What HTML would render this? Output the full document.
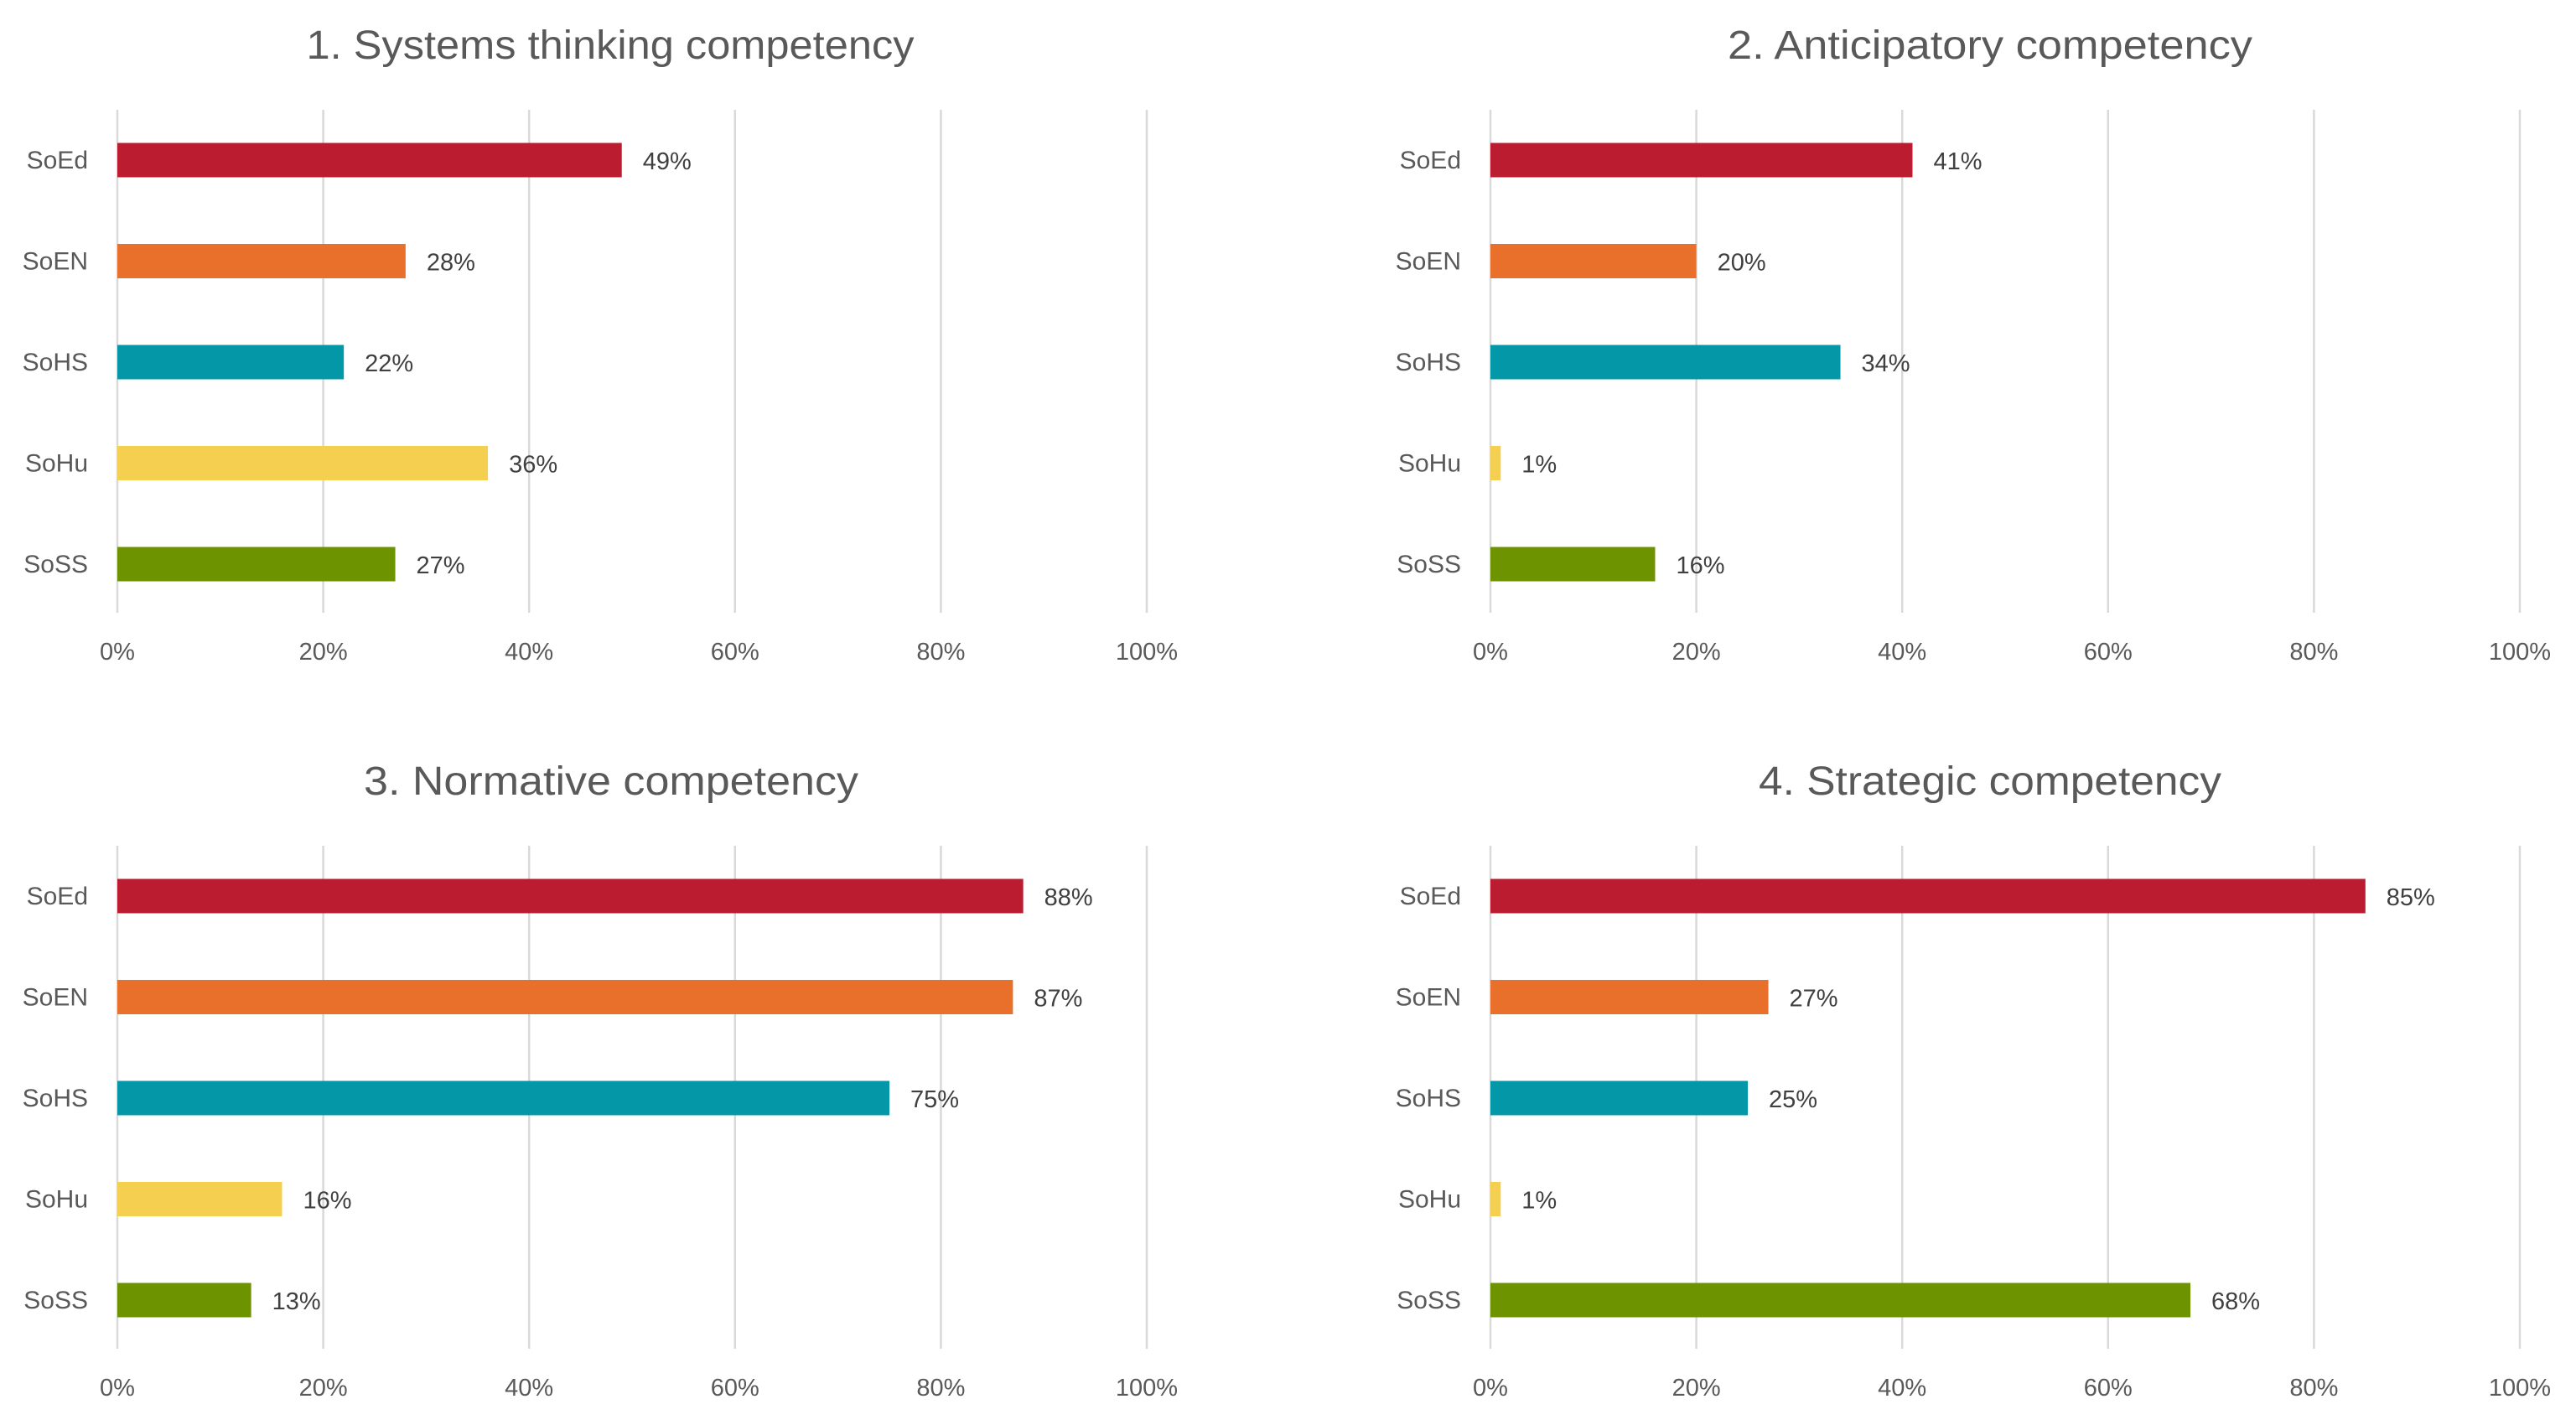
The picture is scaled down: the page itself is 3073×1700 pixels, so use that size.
<!DOCTYPE html>
<html><head><meta charset="utf-8"><style>
html,body{margin:0;padding:0;background:#fff;}
svg{display:block;font-family:"Liberation Sans",sans-serif;}
</style></head><body>
<svg id="chart" width="3073" height="1700" viewBox="0 0 3073 1700" xmlns="http://www.w3.org/2000/svg"></svg>
<script>
const categories = ["SoEd","SoEN","SoHS","SoHu","SoSS"];
const titles = ["1. Systems thinking competency","2. Anticipatory competency","3. Normative competency","4. Strategic competency"];
const systemsValues = [49,28,22,36,27];
const anticipatoryValues = [41,20,34,1,16];
const normativeValues = [88,87,75,16,13];
const strategicValues = [85,27,25,1,68];
const tickValues = [0,20,40,60,80,100];
const tickLabels = ["0%","20%","40%","60%","80%","100%"];
const colors = ["#BC1C30","#E8702A","#0497A8","#F5CF4F","#6E9300"];

const panels = [
  {vals: systemsValues, x0:140, x1:1368, yOff:0, tx:728, tw:725},
  {vals: anticipatoryValues, x0:1778, x1:3006, yOff:0, tx:2374, tw:626},
  {vals: normativeValues, x0:140, x1:1368, yOff:878, tx:729, tw:590},
  {vals: strategicValues, x0:1778, x1:3006, yOff:878, tx:2374, tw:552}
];
const svg = document.getElementById('chart');
const NS = "http://www.w3.org/2000/svg";
function mk(tag, attrs){ const e=document.createElementNS(NS,tag); for(const k in attrs) e.setAttribute(k,attrs[k]); svg.appendChild(e); return e; }

panels.forEach((p,pi)=>{
  const xs = v => p.x0 + (p.x1-p.x0)*v/100;
  const ys = i => 191 + p.yOff + i*120.5;
  const t = mk('text',{x:p.tx,y:53+p.yOff+17,'text-anchor':'middle','font-size':48,fill:'#595959',textLength:p.tw,lengthAdjust:'spacingAndGlyphs'});
  t.textContent = titles[pi];
  
  
  tickValues.forEach((tv,ti)=>{
    const g = mk('line',{x1:xs(tv),x2:xs(tv),y1:131+p.yOff,y2:731+p.yOff,stroke:'#d9d9d9','stroke-width':2.5});
    
    
    const l = mk('text',{x:xs(tv),y:776+p.yOff+11,'text-anchor':'middle','font-size':29,fill:'#595959'});
    l.textContent = tickLabels[ti];
    
    
  });
  categories.forEach((c,i)=>{
    const v = p.vals[i];
    const b = mk('rect',{x:p.x0,y:ys(i)-20.5,width:Math.max(xs(v)-p.x0,1),height:41,fill:colors[i]});
    
    
    const cl = mk('text',{x:p.x0-35,y:ys(i)+10,'text-anchor':'end','font-size':30,fill:'#595959'});
    cl.textContent = c;
    
    
    const vl = mk('text',{x:xs(v)+25,y:ys(i)+11,'font-size':29,fill:'#404040'});
    vl.textContent = v+'%';
    
    
  });
});
</script>
</body></html>
